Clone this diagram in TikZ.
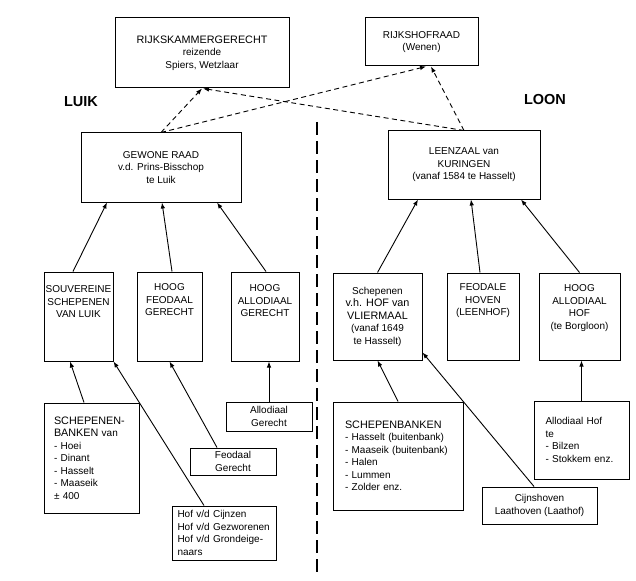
\documentclass[tikz,border=0pt]{standalone}
\usepackage{fontspec}
\setmainfont{Liberation Sans}
\usetikzlibrary{arrows.meta}

\tikzset{
  box/.style={draw, line width=1pt, inner sep=1.5pt, align=center},
  txt/.style={align=center, inner sep=0pt},
  link/.style={line width=0.9pt, -{Latex[length=6pt,width=4.5pt]}},
  dlink/.style={link, dash pattern=on 5pt off 3.5pt},
  divider/.style={line width=1.4pt, dash pattern=on 13pt off 6pt},
  region/.style={font=\bfseries\fontsize{14.5}{15}\selectfont},
}
\newcommand{\bigcaps}{\fontsize{10.8}{13}\selectfont}

\begin{document}
\begin{tikzpicture}[x=1pt, y=-1pt, font=\fontsize{10}{12.5}\selectfont]
  \useasboundingbox (0,0) rectangle (636,580);

  % Top courts
  \node[box, minimum width=174pt, minimum height=70pt] (rkg) at (202,53)
    {{\bigcaps RIJKSKAMMERGERECHT}\\reizende\\Spiers, Wetzlaar};
  \node[box, minimum width=113pt, minimum height=48pt] (rh) at (421.5,42)
    {RIJKSHOFRAAD\\(Wenen)};

  % Region labels and divider
  \node[region] (luik) at (81,102) {LUIK};
  \node[region] (loon) at (545,100) {LOON};
  \coordinate (divtop) at (317,122);
  \coordinate (divbot) at (317,577);
  \draw[divider] (divtop) -- (divbot);

  % Second level
  \node[box, minimum width=160pt, minimum height=69pt] (gr) at (161,167.5)
    {GEWONE RAAD\\v.d. Prins-Bisschop\\te Luik};
  \node[box, minimum width=152pt, minimum height=68pt] (lz) at (464,165)
    {LEENZAAL van\\KURINGEN\\(vanaf 1584 te Hasselt)};

  % Third level, Luik
  \node[box, minimum width=69pt, minimum height=89pt] (sv) at (78.5,316.5) {};
  \node[txt] (svt) at (78.5,302) {SOUVEREINE\\SCHEPENEN\\VAN LUIK};
  \node[box, minimum width=65pt, minimum height=89pt] (hf) at (169.5,316.5) {};
  \node[txt] (hft) at (169.5,300) {HOOG\\FEODAAL\\GERECHT};
  \node[box, minimum width=68pt, minimum height=89pt] (ha) at (265,316.5) {};
  \node[txt] (hat) at (265,301) {HOOG\\ALLODIAAL\\GERECHT};

  % Third level, Loon
  \node[box, minimum width=89pt, minimum height=87pt] (vh) at (377.5,316.5)
    {Schepenen\\{\bigcaps v.h. HOF van}\\{\bigcaps VLIERMAAL}\\(vanaf 1649\\te Hasselt)};
  \node[box, minimum width=72pt, minimum height=87pt] (fh) at (483,316.5) {};
  \node[txt] (fht) at (483,301) {FEODALE\\HOVEN\\(LEENHOF)};
  \node[box, minimum width=81pt, minimum height=87pt] (ah) at (579.5,316.5) {};
  \node[txt] (aht) at (579.5,308) {HOOG\\ALLODIAAL\\HOF\\(te Borgloon)};

  % Lower courts, Luik
  \node[box, minimum width=95pt, minimum height=110pt, text width=75pt, align=left] (sb) at (91.5,458)
    {{\bigcaps SCHEPENEN-}\\{\bigcaps BANKEN} van\\- Hoei\\- Dinant\\- Hasselt\\- Maaseik\\± 400};
  \node[box, minimum width=86pt, minimum height=29pt] (ag) at (269,416.5) {Allodiaal\\Gerecht};
  \node[box, minimum width=86pt, minimum height=27pt] (fg) at (233,461.5) {Feodaal\\Gerecht};
  \node[box, minimum width=104pt, minimum height=54pt, text width=93pt, align=left] (hv) at (224,533)
    {Hof v/d Cijnzen\\Hof v/d Gezworenen\\Hof v/d Grondeige-\\naars};

  % Lower courts, Loon
  \node[box, minimum width=130pt, minimum height=108pt, text width=106pt, align=left] (schb) at (398,456)
    {{\bigcaps SCHEPENBANKEN}\\- Hasselt (buitenbank)\\- Maaseik (buitenbank)\\- Halen\\- Lummen\\- Zolder enz.};
  \node[box, minimum width=95pt, minimum height=78pt, text width=72pt, align=left] (ahf) at (581.5,440)
    {Allodiaal Hof\\te\\- Bilzen\\- Stokkem enz.};
  \node[box, minimum width=115pt, minimum height=37pt] (cj) at (539.5,505.5)
    {Cijnshoven\\Laathoven (Laathof)};

  % Appeals to the imperial courts
  \draw[dlink] (gr.north) -- (rkg.south);
  \draw[dlink] (gr.north) -- ([xshift=4.5pt]rh.south);
  \draw[dlink] (lz.north) -- ([xshift=1pt]rkg.south);
  \draw[dlink] (lz.north) -- ([xshift=9.5pt]rh.south);

  % Appeals to Gewone Raad and Leenzaal
  \draw[link] ([xshift=-5.5pt]sv.north) -- ([xshift=-54pt]gr.south);
  \draw[link] ([xshift=2.5pt]hf.north) -- ([xshift=1pt]gr.south);
  \draw[link] ([xshift=1pt]ha.north) -- ([xshift=56pt]gr.south);
  \draw[link] (vh.north) -- ([xshift=-46pt]lz.south);
  \draw[link] ([xshift=-3pt]fh.north) -- ([xshift=7pt]lz.south);
  \draw[link] (ah.north) -- ([xshift=57pt]lz.south);

  % Lower courts
  \draw[link] ([xshift=-7.5pt]sb.north) -- ([xshift=-8.5pt]sv.south);
  \draw[link] (ag.north) -- (ag.north |- ha.south);
  \draw[link] ([xshift=-16pt]fg.north) -- (hf.south);
  \draw[link] ([xshift=-20pt]hv.north) -- (sv.south east);
  \draw[link] (schb.north) -- (vh.south);
  \draw[link] (ahf.north) -- (ahf.north |- ah.south);
  \draw[link] ([xshift=-5.5pt]cj.north) -- ([yshift=8pt]vh.south east);
\end{tikzpicture}
\end{document}
